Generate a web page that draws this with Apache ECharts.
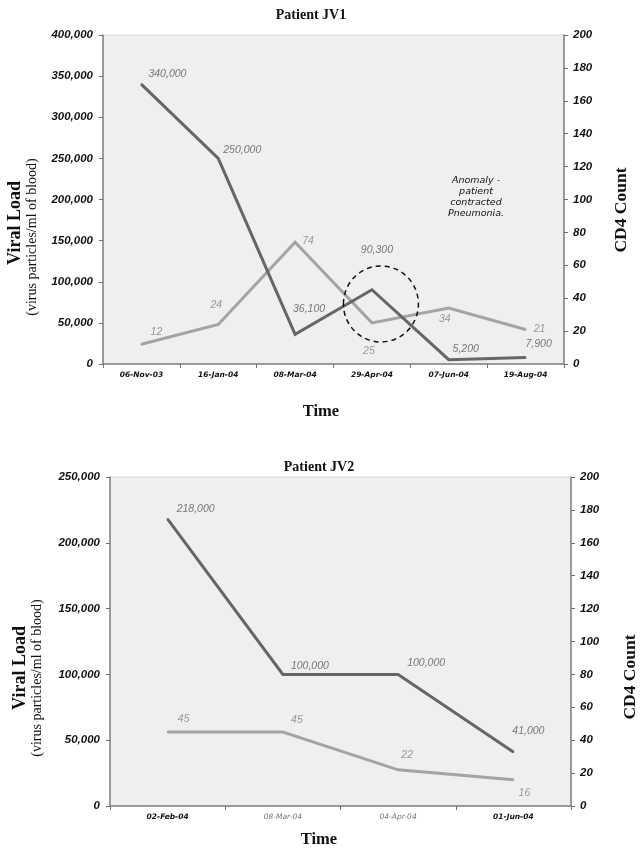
<!DOCTYPE html>
<html>
<head>
<meta charset="utf-8">
<script src="https://cdn.jsdelivr.net/npm/echarts@6/dist/echarts.min.js"></script>
<style>
html,body{margin:0;padding:0;background:#fff;}
#chart{width:643px;height:850px;}
</style>
</head>
<body>
<div id="chart"></div>
<script>
// ---- Data ----
const categories1 = ['06-Nov-03','16-Jan-04','08-Mar-04','29-Apr-04','07-Jun-04','19-Aug-04'];
const viralLoad1 = [340000, 250000, 36100, 90300, 5200, 7900];
const cd4Count1 = [12, 24, 74, 25, 34, 21];

const categories2 = ['02-Feb-04','08-Mar-04','04-Apr-04','01-Jun-04'];
const viralLoad2 = [218000, 100000, 100000, 41000];
const cd4Count2 = [45, 45, 22, 16];

const viralAxis1 = {min: 0, max: 400000, interval: 50000};
const viralAxis2 = {min: 0, max: 250000, interval: 50000};
const cd4Axis = {min: 0, max: 200, interval: 20};

const titles = ['Patient JV1', 'Patient JV2'];
const annotationText = 'Anomaly -\npatient\ncontracted\nPneumonia.';

// ---- Label offsets (style) ----
const offViral1 = [[26,-10],[24,-8],[14,-25],[5,-40],[17,-11],[13,-13]];
const offCd41 = [[15,-12],[-2,-19],[13,-1],[-3,28],[-4,11],[14,0]];
const offViral2 = [[28,-10],[27,-8],[28,-11],[15,-21]];
const offCd42 = [[16,-13],[14,-12],[9,-15],[11,13]];

const fmt = v => Number(v).toLocaleString('en-US');
const VCOL = '#666666', CCOL = '#a4a4a4';

function series(data, xi, yi, color, labelColor, offs, z) {
  return {
    type: 'line', xAxisIndex: xi, yAxisIndex: yi, z: z,
    data: data.map((v, i) => ({value: v, label: {offset: offs[i]}})),
    symbol: 'circle', symbolSize: 2, itemStyle: {color: color},
    lineStyle: {color: color, width: 3, join: 'miter'},
    label: {show: true, position: 'inside', formatter: p => fmt(p.value),
      color: labelColor, fontStyle: 'italic', fontSize: 10.5, fontFamily: 'Liberation Sans'},
    emphasis: {disabled: true}, silent: true, animation: false
  };
}

const axisLine = {show: true, lineStyle: {color: '#808080', width: 1.5}};
const axisTick = {show: true, length: 4, lineStyle: {color: '#707070', width: 1}};
const yLabel = {color: '#111', fontWeight: 'bold', fontStyle: 'italic', fontSize: 11.5, fontFamily: 'Liberation Sans'};

function valueAxis(gi, pos, cfg, isViral) {
  return Object.assign({
    type: 'value', gridIndex: gi, position: pos,
    axisLine: axisLine, axisTick: axisTick, splitLine: {show: false},
    axisLabel: Object.assign({margin: isViral ? 10 : 9, formatter: v => isViral ? fmt(v) : String(v)}, yLabel)
  }, cfg);
}

const catLabelBase = {fontFamily: 'DejaVu Sans', fontStyle: 'italic', fontSize: 7.5};

const chart = echarts.init(document.getElementById('chart'), null, {renderer: 'canvas'});

const option = {
  backgroundColor: '#ffffff',
  animation: false,
  title: [
    {text: titles[0], left: 306, top: 3, textAlign: 'center',
     textStyle: {fontFamily: 'Liberation Serif', fontWeight: 'bold', fontSize: 14, color: '#111'}},
    {text: titles[1], left: 314, top: 455, textAlign: 'center',
     textStyle: {fontFamily: 'Liberation Serif', fontWeight: 'bold', fontSize: 14, color: '#111'}}
  ],
  grid: [
    {left: 103, right: 79, top: 35, height: 329, show: true, backgroundColor: '#efefef', borderColor: '#d8d8d8', borderWidth: 1},
    {left: 110, right: 72, top: 477, height: 329, show: true, backgroundColor: '#efefef', borderColor: '#d8d8d8', borderWidth: 1}
  ],
  xAxis: [
    {type: 'category', gridIndex: 0, data: categories1, boundaryGap: true,
     axisLine: axisLine, axisTick: axisTick,
     axisLabel: Object.assign({margin: 7, color: '#111', fontWeight: 'bold', interval: 0}, catLabelBase)},
    {type: 'category', gridIndex: 1, data: categories2, boundaryGap: true,
     axisLine: axisLine, axisTick: axisTick,
     axisLabel: {margin: 7, interval: 0,
       formatter: (v, i) => (i === 1 || i === 2) ? '{g|' + v + '}' : '{b|' + v + '}',
       rich: {
         b: Object.assign({color: '#111', fontWeight: 'bold'}, catLabelBase),
         g: Object.assign({color: '#777', fontWeight: 'normal'}, catLabelBase)
       }}}
  ],
  yAxis: [
    valueAxis(0, 'left', viralAxis1, true),
    valueAxis(0, 'right', cd4Axis, false),
    valueAxis(1, 'left', viralAxis2, true),
    valueAxis(1, 'right', cd4Axis, false)
  ],
  series: [
    series(cd4Count1, 0, 1, CCOL, '#999', offCd41, 2),
    series(viralLoad1, 0, 0, VCOL, '#777', offViral1, 3),
    series(cd4Count2, 1, 3, CCOL, '#999', offCd42, 2),
    series(viralLoad2, 1, 2, VCOL, '#777', offViral2, 3)
  ]
};
chart.setOption(option);

// ---- Annotations / axis titles ----
const serifBold = (size) => 'bold ' + size + 'px "Liberation Serif"';
const serif = (size) => size + 'px "Liberation Serif"';
function txt(x, y, text, font, rot) {
  return {type: 'text', x: x, y: y, rotation: rot || 0, silent: true, z: 10,
    style: {text: text, font: font, fill: '#111', align: 'center', verticalAlign: 'middle'}};
}
const anchor = chart.convertToPixel({xAxisIndex: 0, yAxisIndex: 0}, [3, 73000]);
const R = Math.PI / 2;
chart.setOption({
  graphic: [
    txt(15, 223, 'Viral Load', serifBold(18), R),
    txt(32, 237, '(virus particles/ml of blood)', serif(14), R),
    txt(621, 210, 'CD4 Count', serifBold(17.5), R),
    txt(321, 412, 'Time', serifBold(16.5)),
    txt(20, 668, 'Viral Load', serifBold(18), R),
    txt(37, 678, '(virus particles/ml of blood)', serif(14), R),
    txt(630, 677, 'CD4 Count', serifBold(17.5), R),
    txt(319, 840, 'Time', serifBold(16.5)),
    {type: 'text', x: 476, y: 197, silent: true, z: 10,
     style: {text: annotationText, font: 'italic 9.5px "DejaVu Sans"', fill: '#111', align: 'center',
             verticalAlign: 'middle', lineHeight: 11}},
    {type: 'ellipse', silent: true, z: 10,
     shape: {cx: anchor[0] + 9, cy: anchor[1], rx: 37.5, ry: 38},
     style: {fill: 'none', stroke: '#111', lineWidth: 1.5, lineDash: [5, 4]}}
  ]
});
</script>
</body>
</html>
